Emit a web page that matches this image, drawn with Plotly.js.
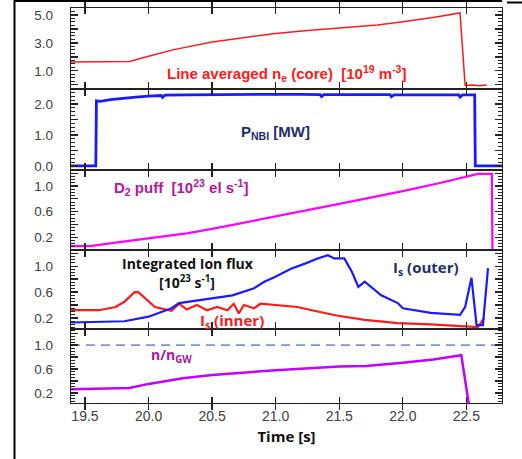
<!DOCTYPE html>
<html>
<head>
<meta charset="utf-8">
<script src="https://cdn.plot.ly/plotly-3.0.1.min.js"></script>
<style>html,body{margin:0;padding:0;background:#fff;}#chart{width:522px;height:459px;}</style>
</head>
<body>
<div id="chart"></div>
<script>
// ---- data ----
const neTime = [19.39, 19.85, 20.0, 20.2, 20.5, 20.75, 21.0, 21.25, 21.5, 21.8, 22.0, 22.25, 22.45, 22.49, 22.55, 22.6, 22.66];
const neCore = [1.63, 1.67, 2.04, 2.52, 3.07, 3.4, 3.68, 3.88, 4.04, 4.28, 4.52, 4.83, 5.15, -0.05, -0.02, -0.06, -0.02];

const nbiTime = [19.39, 19.585, 19.59, 19.62, 19.7, 19.8, 19.9, 20.0, 20.1, 20.11, 20.13, 20.3, 20.5, 20.8, 21.0, 21.2, 21.35, 21.36, 21.38, 21.6, 21.9, 21.91, 21.93, 22.2, 22.44, 22.45, 22.47, 22.565, 22.57, 22.78];
const nbiPower = [0.0, 0.0, 2.1, 2.08, 2.14, 2.19, 2.22, 2.25, 2.27, 2.21, 2.28, 2.29, 2.3, 2.31, 2.31, 2.31, 2.3, 2.24, 2.3, 2.3, 2.3, 2.23, 2.29, 2.29, 2.29, 2.22, 2.29, 2.29, 0.0, 0.0];

const puffTime = [19.39, 19.54, 19.8, 20.0, 20.3, 20.5, 21.0, 21.5, 22.0, 22.3, 22.59, 22.70, 22.705, 22.78];
const puffRate = [0.06, 0.06, 0.13, 0.18, 0.26, 0.33, 0.52, 0.72, 0.92, 1.05, 1.19, 1.19, 0.0, 0.0];

const innerTime = [19.39, 19.61, 19.74, 19.81, 19.89, 19.92, 20.05, 20.18, 20.24, 20.3, 20.38, 20.46, 20.54, 20.62, 20.67, 20.71, 20.75, 20.83, 20.88, 20.98, 21.17, 21.33, 21.49, 21.7, 21.96, 22.22, 22.48, 22.59, 22.64];
const innerFlux = [0.32, 0.32, 0.37, 0.45, 0.60, 0.60, 0.37, 0.31, 0.42, 0.33, 0.40, 0.32, 0.37, 0.32, 0.42, 0.27, 0.40, 0.35, 0.42, 0.40, 0.37, 0.30, 0.235, 0.17, 0.12, 0.10, 0.07, 0.06, 0.20];

const outerTime = [19.39, 19.81, 20.0, 20.18, 20.24, 20.5, 20.66, 20.83, 20.91, 20.99, 21.12, 21.23, 21.33, 21.41, 21.46, 21.54, 21.6, 21.65, 21.7, 21.83, 21.96, 22.0, 22.22, 22.45, 22.49, 22.54, 22.58, 22.63, 22.67];
const outerFlux = [0.13, 0.15, 0.22, 0.35, 0.43, 0.50, 0.55, 0.66, 0.76, 0.83, 0.96, 1.04, 1.12, 1.17, 1.12, 1.12, 0.91, 0.68, 0.76, 0.55, 0.43, 0.35, 0.28, 0.25, 0.37, 0.82, 0.09, 0.09, 0.97];

const gwTime = [19.39, 19.85, 20.0, 20.27, 20.5, 21.0, 21.5, 21.71, 22.0, 22.24, 22.46, 22.52];
const gwFrac = [0.26, 0.28, 0.35, 0.445, 0.50, 0.58, 0.64, 0.65, 0.705, 0.76, 0.83, 0.0];

const gwLimitTime = [19.39, 22.78];
const gwLimit = [1.0, 1.0];

const timeTicks = [19.5, 20.0, 20.5, 21.0, 21.5, 22.0, 22.5];
const timeTickText = ['19.5', '20.0', '20.5', '21.0', '21.5', '22.0', '22.5'];
const neTicks = [0, 1, 2, 3, 4, 5];
const neTickText = ['', '1.0', '', '3.0', '', '5.0'];
const nbiTicks = [0, 0.5, 1, 1.5, 2];
const nbiTickText = ['0.0', '', '1.0', '', '2.0'];
const fracTicks = [0.2, 0.4, 0.6, 0.8, 1.0, 1.2];
const fracTickText = ['0.2', '', '0.6', '', '1.0', ''];

// ---- layout helpers ----
const ML = 53, L = 71, R = 502, T = 8, B = 403;
const px = x => (x - ML) / (R - ML);
const py = y => (B - y) / (B - T);
const edges = [8, 89, 170, 250, 329, 403];
const xRange = [19.39, 22.78];
const xDomain = [px(L), 1];

function steps(a, b, d) {
  const out = [];
  for (let k = 0; a + k * d <= b + 1e-9; k++) out.push(+(a + k * d).toFixed(4));
  return out;
}

const AX = '#222222';
function xAxis(i, last) {
  const ax = {
    domain: xDomain, anchor: 'y' + (i === 1 ? '' : i), range: xRange,
    tickmode: 'array', tickvals: timeTicks, ticktext: timeTickText, showticklabels: !!last,
    ticks: 'inside', ticklen: 6, tickcolor: AX, tickwidth: 1.3,
    showline: true, linecolor: AX, linewidth: 1.2, mirror: 'allticks',
    showgrid: false, zeroline: false,
    tickfont: {family: 'Liberation Sans, Arial, sans-serif', size: 14, color: '#404040'}
  };
  if (last) ax.title = {text: '<b>Time [s]</b>', font: {family: 'Open Sans, Liberation Sans, sans-serif', size: 15, color: '#111'}, standoff: 8};
  return ax;
}
// y axis carrying the frame and ticks (labels are drawn by a companion axis)
function yAxis(i, range, tv, minorDt) {
  return {
    domain: [py(edges[i]), py(edges[i - 1])], anchor: 'x' + (i === 1 ? '' : i), range: range,
    tickmode: 'array', tickvals: tv, showticklabels: false,
    ticks: 'inside', ticklen: 7, tickcolor: AX, tickwidth: 1.3,
    minor: {tickmode: 'array', tickvals: steps(Math.ceil(range[0] / minorDt) * minorDt, range[1], minorDt),
      ticks: 'inside', ticklen: 4, tickcolor: AX, tickwidth: 1},
    showline: true, linecolor: AX, linewidth: 1.2, mirror: 'allticks',
    showgrid: false, zeroline: false
  };
}
// label-only companion axis, placed at the left edge of the paper area
function yLabelAxis(i, range, tv, tt) {
  return {
    overlaying: 'y' + (i === 1 ? '' : i), anchor: 'free', position: 0, side: 'left', range: range,
    tickmode: 'array', tickvals: tv, ticktext: tt, showticklabels: true,
    ticks: '', showline: false, showgrid: false, zeroline: false,
    tickfont: {family: 'Liberation Sans, Arial, sans-serif', size: 13.5, color: '#404040'}
  };
}

const traces = [
  {x: neTime, y: neCore, xaxis: 'x', yaxis: 'y', mode: 'lines', line: {color: '#ff1a1a', width: 1.5}},
  {x: nbiTime, y: nbiPower, xaxis: 'x2', yaxis: 'y2', mode: 'lines', line: {color: '#1a1aff', width: 2.8}},
  {x: puffTime, y: puffRate, xaxis: 'x3', yaxis: 'y3', mode: 'lines', line: {color: '#ff00ff', width: 2.2}},
  {x: innerTime, y: innerFlux, xaxis: 'x4', yaxis: 'y4', mode: 'lines', line: {color: '#ff1a1a', width: 2.2}},
  {x: outerTime, y: outerFlux, xaxis: 'x4', yaxis: 'y4', mode: 'lines', line: {color: '#1a1aff', width: 2.2}},
  {x: gwLimitTime, y: gwLimit, xaxis: 'x5', yaxis: 'y5', mode: 'lines', line: {color: '#6f9bd8', width: 1.8, dash: '9px,6px'}, cliponaxis: false},
  {x: gwTime, y: gwFrac, xaxis: 'x5', yaxis: 'y5', mode: 'lines', line: {color: '#c400ff', width: 2.5}},
  // transparent copies that attach the label-only axes to their panels
  {x: neTime, y: neCore, xaxis: 'x', yaxis: 'y6', mode: 'lines', line: {color: 'rgba(0,0,0,0)', width: 0}, hoverinfo: 'skip'},
  {x: nbiTime, y: nbiPower, xaxis: 'x2', yaxis: 'y7', mode: 'lines', line: {color: 'rgba(0,0,0,0)', width: 0}, hoverinfo: 'skip'},
  {x: puffTime, y: puffRate, xaxis: 'x3', yaxis: 'y8', mode: 'lines', line: {color: 'rgba(0,0,0,0)', width: 0}, hoverinfo: 'skip'},
  {x: innerTime, y: innerFlux, xaxis: 'x4', yaxis: 'y9', mode: 'lines', line: {color: 'rgba(0,0,0,0)', width: 0}, hoverinfo: 'skip'},
  {x: gwTime, y: gwFrac, xaxis: 'x5', yaxis: 'y10', mode: 'lines', line: {color: 'rgba(0,0,0,0)', width: 0}, hoverinfo: 'skip'}
];

const F = 'Liberation Sans, Arial, sans-serif';
const C = 'Open Sans, Liberation Sans, sans-serif';
function ann(text, x, y, color, size, fam) {
  return {text: text, xref: 'paper', yref: 'paper', x: px(x), y: py(y), xanchor: 'center', yanchor: 'middle',
    showarrow: false, font: {family: fam || F, size: size || 15, color: color}};
}
const annotations = [
  ann('<b>Line averaged n<sub>e</sub> (core)  [10<sup>19</sup> m<sup>-3</sup>]</b>', 286, 73, '#ff1a1a', 15),
  ann('<b>P<sub>NBI</sub> [MW]</b>', 275, 132, '#1f2d6e', 15),
  ann('<b>D<sub>2</sub> puff  [10<sup>23</sup> el s<sup>-1</sup>]</b>', 181, 187, '#b5179e', 15),
  ann('<b>Integrated Ion flux</b>', 188, 263, '#111111', 14, C),
  ann('<b>[10<sup>23</sup> s<sup>-1</sup>]</b>', 187, 282, '#111111', 14, C),
  ann('<b>I<sub>s</sub> (outer)</b>', 426, 268, '#1f2d6e', 15, C),
  ann('<b>I<sub>s</sub> (inner)</b>', 232, 321, '#ff1a1a', 15, C),
  ann('<b>n/n<sub>GW</sub></b>', 171, 355, '#a8179f', 14, C)
];

const shapes = [
  {type: 'line', xref: 'paper', yref: 'paper', x0: px(14.5), x1: px(14.5), y0: py(0), y1: py(459), line: {color: '#000', width: 2}},
  {type: 'line', xref: 'paper', yref: 'paper', x0: px(14), x1: px(502), y0: py(1), y1: py(1), line: {color: '#000', width: 2}},
  {type: 'line', xref: 'paper', yref: 'paper', x0: px(507), x1: px(522), y0: py(2.5), y1: py(2.5), line: {color: '#000', width: 2}}
];

const layout = {
  width: 522, height: 459,
  margin: {l: ML, r: 522 - R, t: T, b: 459 - B},
  paper_bgcolor: '#ffffff', plot_bgcolor: 'rgba(0,0,0,0)',
  showlegend: false,
  xaxis: xAxis(1), xaxis2: xAxis(2), xaxis3: xAxis(3), xaxis4: xAxis(4), xaxis5: xAxis(5, true),
  yaxis: yAxis(1, [-0.3, 5.5], neTicks, 0.25),
  yaxis2: yAxis(2, [-0.13, 2.48], nbiTicks, 0.125),
  yaxis3: yAxis(3, [0.0, 1.25], fracTicks, 0.05),
  yaxis4: yAxis(4, [0.03, 1.25], fracTicks, 0.05),
  yaxis5: yAxis(5, [0.03, 1.27], fracTicks, 0.05),
  yaxis6: yLabelAxis(1, [-0.3, 5.5], neTicks, neTickText),
  yaxis7: yLabelAxis(2, [-0.13, 2.48], nbiTicks, nbiTickText),
  yaxis8: yLabelAxis(3, [0.0, 1.25], fracTicks, fracTickText),
  yaxis9: yLabelAxis(4, [0.03, 1.25], fracTicks, fracTickText),
  yaxis10: yLabelAxis(5, [0.03, 1.27], fracTicks, fracTickText),
  annotations: annotations,
  shapes: shapes
};

Plotly.newPlot('chart', traces, layout, {displayModeBar: false, staticPlot: true});
</script>
</body>
</html>
